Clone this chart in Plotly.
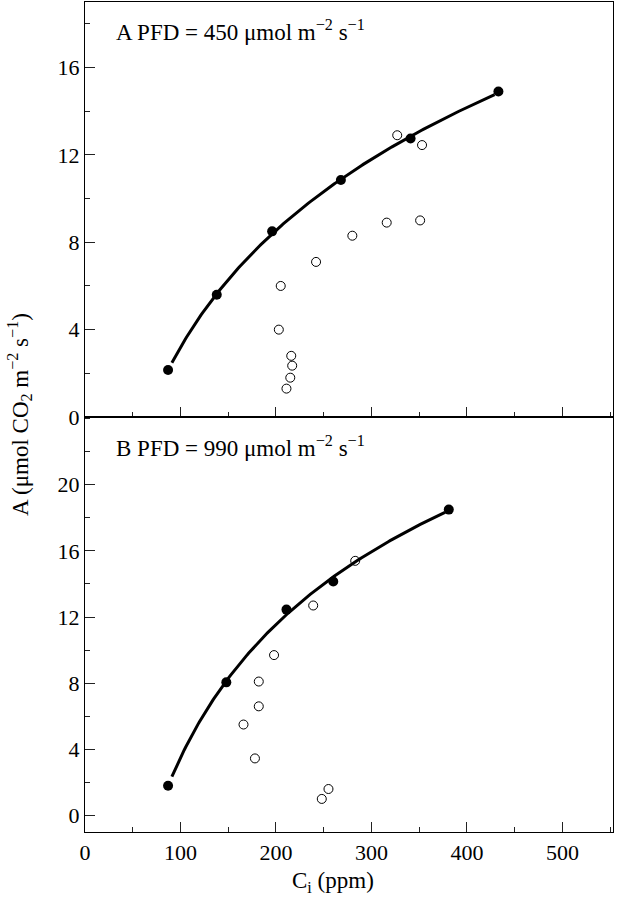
import numpy as np
import plotly.graph_objects as go
from plotly.subplots import make_subplots

# ---- Data ----
# Panel A: PFD = 450
a_filled_ci = [87, 138, 196, 268, 341, 433]
a_filled_A = [2.15, 5.6, 8.5, 10.85, 12.75, 14.9]
a_open_ci = [327, 353, 316, 351, 280, 242, 205, 203, 216, 217, 215, 211]
a_open_A = [12.9, 12.45, 8.9, 9.0, 8.3, 7.1, 6.0, 4.0, 2.8, 2.35, 1.8, 1.3]

# Panel B: PFD = 990
b_filled_ci = [87, 148, 211, 260, 381]
b_filled_A = [1.8, 8.05, 12.45, 14.15, 18.5]
b_open_ci = [283, 239, 198, 182, 182, 166, 178, 248, 255]
b_open_A = [15.4, 12.7, 9.7, 8.1, 6.6, 5.5, 3.45, 1.0, 1.6]

x_tickvals = [0, 100, 200, 300, 400, 500]
a_y_tickvals = [0, 4, 8, 12, 16]
b_y_tickvals = [0, 4, 8, 12, 16, 20]

FONT = "Liberation Serif, Times New Roman, Times, serif"
FS = 22
FS_TXT = 23

def fit_curve(xs, ys, deg):
    # smooth concave fit: polynomial in ln(Ci)
    lx = np.log(np.asarray(xs, float))
    c = np.polyfit(lx, ys, deg)
    xx = np.linspace(min(xs) + 4, max(xs) - 4, 200)
    return xx, np.polyval(c, np.log(xx))

fig = make_subplots(rows=2, cols=1, shared_xaxes=False, vertical_spacing=0.0)

for row, (fx, fy, ox, oy, deg) in enumerate([
    (a_filled_ci, a_filled_A, a_open_ci, a_open_A, 2),
    (b_filled_ci, b_filled_A, b_open_ci, b_open_A, 2),
], start=1):
    cx, cy = fit_curve(fx, fy, deg)
    fig.add_trace(go.Scatter(x=cx, y=cy, mode="lines",
                             line=dict(color="black", width=3),
                             hoverinfo="skip", showlegend=False), row=row, col=1)
    fig.add_trace(go.Scatter(x=fx, y=fy, mode="markers",
                             marker=dict(symbol="circle", size=10, color="black"),
                             showlegend=False), row=row, col=1)
    fig.add_trace(go.Scatter(x=ox, y=oy, mode="markers",
                             marker=dict(symbol="circle-open", size=9, color="black",
                                         line=dict(width=1, color="black")),
                             showlegend=False), row=row, col=1)

xcommon = dict(range=[0, 553], tickvals=x_tickvals, ticks="inside", ticklen=10,
               tickwidth=1, tickcolor="#222", showline=True, linecolor="black",
               linewidth=1.3, mirror=True, showgrid=False, zeroline=False,
               minor=dict(dtick=50, tick0=0, ticks="inside", ticklen=5,
                          tickwidth=1, tickcolor="#222"),
               tickfont=dict(family=FONT, size=FS, color="black"))
fig.update_xaxes(**xcommon)
fig.update_xaxes(showticklabels=False, row=1, col=1)

ycommon = dict(ticks="inside", ticklen=10, tickwidth=1, tickcolor="#222",
               showline=True, linecolor="black", linewidth=1.3, mirror=True,
               showgrid=False, zeroline=False,
               tickfont=dict(family=FONT, size=FS, color="black"))
fig.update_yaxes(**ycommon)
fig.update_yaxes(range=[0, 19], tickvals=a_y_tickvals,
                 minor=dict(dtick=2, tick0=0, ticks="inside", ticklen=5,
                            tickwidth=1, tickcolor="#222"), row=1, col=1)
fig.update_yaxes(range=[-1, 24.1], tickvals=b_y_tickvals,
                 minor=dict(dtick=2, tick0=0, ticks="inside", ticklen=5,
                            tickwidth=1, tickcolor="#222"), row=2, col=1)

L, R, T, B = 85, 4, 2, 68
W, H = 617, 900
pw, ph = W - L - R, H - T - B

def px(xp):
    return (xp - L) / pw

def py(yp):
    return (H - B - yp) / ph

fig.add_annotation(text="A PFD = 450 μmol m<sup>−2</sup> s<sup>−1</sup>",
                   x=px(114), y=py(30), xref="paper", yref="paper",
                   xanchor="left", yanchor="middle", showarrow=False,
                   font=dict(family=FONT, size=FS_TXT, color="black"))
fig.add_annotation(text="B PFD = 990 μmol m<sup>−2</sup> s<sup>−1</sup>",
                   x=px(114), y=py(446), xref="paper", yref="paper",
                   xanchor="left", yanchor="middle", showarrow=False,
                   font=dict(family=FONT, size=FS_TXT, color="black"))
fig.add_annotation(text="A (μmol CO<sub>2</sub> m<sup>−2</sup> s<sup>−1</sup>)",
                   x=px(19), y=py(415), xref="paper", yref="paper",
                   xanchor="center", yanchor="middle", textangle=-90,
                   showarrow=False,
                   font=dict(family=FONT, size=FS_TXT, color="black"))
fig.add_annotation(text="C<sub>i</sub> (ppm)",
                   x=px(333), y=py(882), xref="paper", yref="paper",
                   xanchor="center", yanchor="middle", showarrow=False,
                   font=dict(family=FONT, size=FS_TXT, color="black"))

fig.update_layout(width=W, height=H, margin=dict(l=L, r=R, t=T, b=B),
                  plot_bgcolor="white", paper_bgcolor="white",
                  font=dict(family=FONT, size=FS, color="black"),
                  showlegend=False)

fig.write_html("out.html", config={"displayModeBar": False},
               post_script="document.body.style.margin='0';"
                           "document.body.style.padding='0';"
                           "document.documentElement.style.overflow='hidden';")
